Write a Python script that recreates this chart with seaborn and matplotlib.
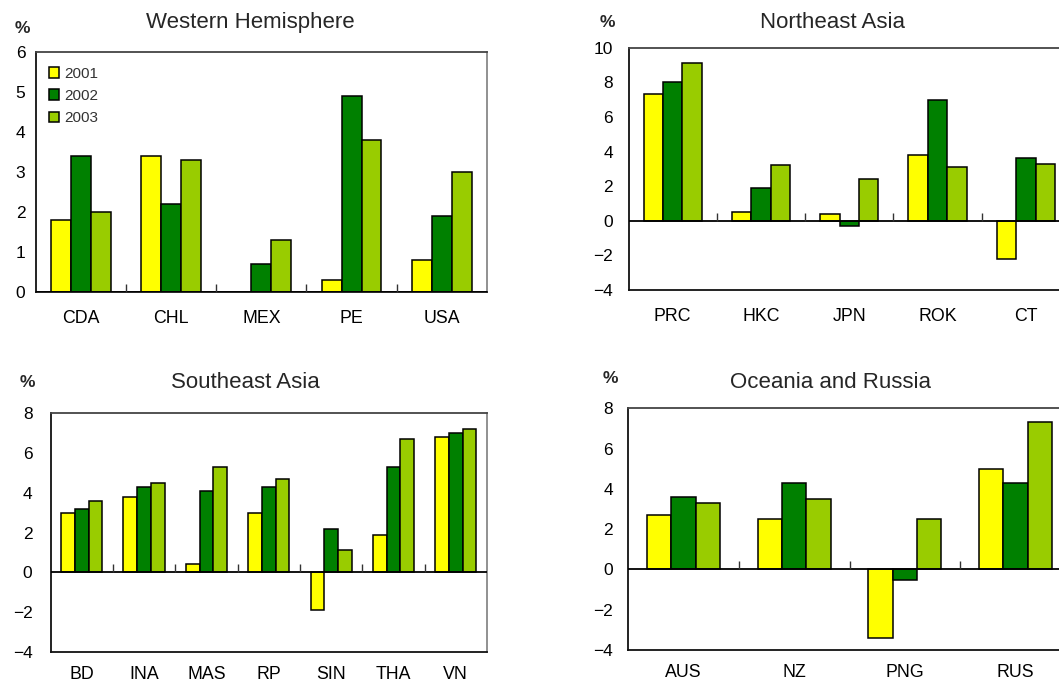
import numpy as np
import pandas as pd
import matplotlib
matplotlib.use("Agg")
import matplotlib.pyplot as plt
import seaborn as sns

# Real GDP growth by economy, 2001-2003 (%)
years = ["2001", "2002", "2003"]

west_names = ["CDA", "CHL", "MEX", "PE", "USA"]
west_2001 = [1.8, 3.4, np.nan, 0.3, 0.8]
west_2002 = [3.4, 2.2, 0.7, 4.9, 1.9]
west_2003 = [2.0, 3.3, 1.3, 3.8, 3.0]

ne_names = ["PRC", "HKC", "JPN", "ROK", "CT"]
ne_2001 = [7.3, 0.5, 0.4, 3.8, -2.2]
ne_2002 = [8.0, 1.9, -0.3, 7.0, 3.6]
ne_2003 = [9.1, 3.2, 2.4, 3.1, 3.3]

se_names = ["BD", "INA", "MAS", "RP", "SIN", "THA", "VN"]
se_2001 = [3.0, 3.8, 0.4, 3.0, -1.9, 1.9, 6.8]
se_2002 = [3.2, 4.3, 4.1, 4.3, 2.2, 5.3, 7.0]
se_2003 = [3.6, 4.5, 5.3, 4.7, 1.1, 6.7, 7.2]

oc_names = ["AUS", "NZ", "PNG", "RUS"]
oc_2001 = [2.7, 2.5, -3.4, 5.0]
oc_2002 = [3.6, 4.3, -0.5, 4.3]
oc_2003 = [3.3, 3.5, 2.5, 7.3]

titles = ["Western Hemisphere", "Northeast Asia", "Southeast Asia", "Oceania and Russia"]
year_colors = ["#FFFF00", "#008000", "#99CC00"]

sns.set_style("white")
plt.rcParams["font.family"] = ["Liberation Sans", "DejaVu Sans"]
plt.rcParams["axes.unicode_minus"] = True


def long_frame(names, s1, s2, s3):
    rows = []
    for yr, vals in zip(years, (s1, s2, s3)):
        for n, v in zip(names, vals):
            rows.append({"economy": n, "year": yr, "growth": v})
    return pd.DataFrame(rows)


panels = [
    dict(df=long_frame(west_names, west_2001, west_2002, west_2003), names=west_names,
         rect=[0.0337, 0.5735, 0.4262, 0.350], ylim=(0, 6), step=1, tdir="inout", ypad=5,
         xpad=13, title_xy=(0.236, 0.967), pct_xy=(0.021, 0.959), legend=True),
    dict(df=long_frame(ne_names, ne_2001, ne_2002, ne_2003), names=ne_names,
         rect=[0.5935, 0.576, 0.4169, 0.3542], ylim=(-4, 10), step=2, tdir="out", ypad=6,
         xpad=13, title_xy=(0.786, 0.967), pct_xy=(0.574, 0.967), legend=False),
    dict(df=long_frame(se_names, se_2001, se_2002, se_2003), names=se_names,
         rect=[0.0477, 0.0472, 0.4122, 0.3485], ylim=(-4, 8), step=2, tdir="in", ypad=13,
         xpad=10, title_xy=(0.232, 0.441), pct_xy=(0.026, 0.441), legend=False),
    dict(df=long_frame(oc_names, oc_2001, oc_2002, oc_2003), names=oc_names,
         rect=[0.5933, 0.0497, 0.418, 0.3534], ylim=(-4, 8), step=2, tdir="out", ypad=6,
         xpad=10, title_xy=(0.784, 0.441), pct_xy=(0.576, 0.447), legend=False),
]

fig = plt.figure(figsize=(10.59, 6.84), dpi=100)

for p, title in zip(panels, titles):
    ax = fig.add_axes(p["rect"])
    sns.barplot(data=p["df"], x="economy", y="growth", hue="year", order=p["names"],
                hue_order=years, palette=year_colors, saturation=1, width=0.66,
                edgecolor="black", linewidth=1.1, errorbar=None, legend=p["legend"], ax=ax)
    n = len(p["names"])
    ax.set_xlim(-0.5, n - 0.5)
    ax.set_ylim(*p["ylim"])
    ax.set_yticks(np.arange(p["ylim"][0], p["ylim"][1] + 0.01, p["step"]))
    ax.set_xlabel("")
    ax.set_ylabel("")

    # zero line with small separators between economies
    ax.axhline(0, color="black", lw=1.3, zorder=3)
    bounds = np.arange(n - 1) + 0.5
    ax.plot(bounds, np.zeros_like(bounds), ls="none", marker=2, ms=6, mew=1,
            color="#333333", zorder=3, clip_on=False)

    for side in ("left", "bottom"):
        ax.spines[side].set_color("#111111")
        ax.spines[side].set_linewidth(1.3)
    ax.spines["top"].set_color("#444444")
    ax.spines["top"].set_linewidth(1.3)
    ax.spines["right"].set_color("#888888")
    ax.spines["right"].set_linewidth(1.3)

    ax.tick_params(axis="x", length=0, pad=p["xpad"], labelsize=12.8, colors="black")
    ax.tick_params(axis="y", direction=p["tdir"], length=5, width=1, pad=p["ypad"],
                   labelsize=12.5, colors="black")

    fig.text(*p["title_xy"], title, ha="center", va="center", fontsize=16)
    fig.text(*p["pct_xy"], "%", ha="center", va="center", fontsize=12.5, fontweight="bold")

    if p["legend"]:
        leg = ax.legend(loc="upper left", bbox_to_anchor=(0.005, 0.985), frameon=False,
                        fontsize=11, handlelength=0.7, handleheight=0.7,
                        handletextpad=0.35, labelspacing=0.55, borderaxespad=0.3)
        for t in leg.get_texts():
            t.set_color("#333333")

fig.savefig("out.png", dpi=100)
